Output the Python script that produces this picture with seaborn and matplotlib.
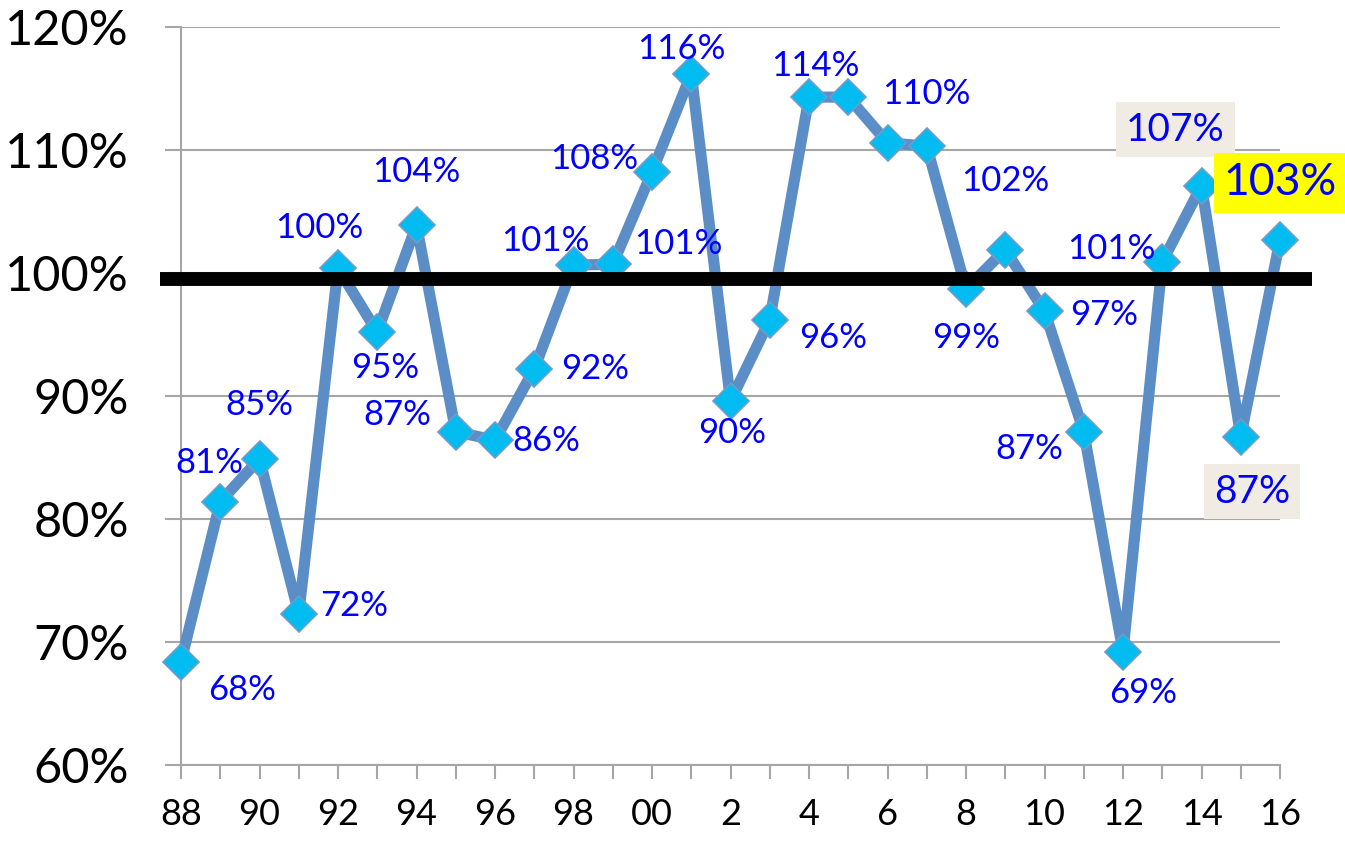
import matplotlib
matplotlib.use("Agg")
import matplotlib.pyplot as plt
import seaborn as sns
import pandas as pd

# ---- data ----
years = list(range(1988, 2017))
values = [68.4, 81.4, 84.9, 72.3, 100.4, 95.2, 103.9, 87.1, 86.4, 92.2,
          100.65, 100.7, 108.2, 116.2, 89.6, 96.2, 114.3, 114.3, 110.6, 110.3,
          98.7, 101.9, 96.9, 87.1, 69.2, 100.9, 107.1, 86.7, 102.7]
tick_labels = ['88', '', '90', '', '92', '', '94', '', '96', '', '98', '', '00', '',
               '2', '', '4', '', '6', '', '8', '', '10', '', '12', '', '14', '', '16']
y_ticks = [60, 70, 80, 90, 100, 110, 120]
y_tick_labels = ['60%', '70%', '80%', '90%', '100%', '110%', '120%']
reference_level = 99.5

# label placement (pixel offsets from the point: dx right, dy down); None = no label
label_offsets = [(61, 28), (-11, -39), (0, -54), (55, -8), (-19, -40), (8, 36),
                 (0, -53), (-58, -17), (51, 1), (61, 0), (-28, -24), (66, -20),
                 (-58, -13), (-10, -25), (2, 32), (63, 18), (6, -31), None, None,
                 (0, -52), (0, 49), (0, -69), (60, 4), (-54, 17), (20, 41),
                 (-51, -13), (-26, -56), (11, 55), (0, -57)]
# special highlighted labels: index -> (fontsize, box colour, pad)
highlights = {26: (28, '#F0ECE4', 0.25), 27: (28, '#F0ECE4', 0.25), 28: (32, '#FFFF00', 0.22)}

df = pd.DataFrame({'pos': range(len(years)), 'year': years, 'value': values})

sns.set_style("white")
plt.rcParams['font.family'] = ['Lato', 'DejaVu Sans']

W, H = 1345, 841
fig = plt.figure(figsize=(W / 100, H / 100), dpi=100)
ax = fig.add_axes([181 / W, 76 / H, 1099 / W, 738 / H])

grid_color = '#A6A6A6'
line_color = '#5B8EC6'

ax.grid(axis='y', color=grid_color, lw=1.5, zorder=0)
ax.grid(axis='x', visible=False)
ax.set_axisbelow(True)

sns.lineplot(data=df, x='pos', y='value', ax=ax, color=line_color, lw=8,
             marker='D', markersize=18, markerfacecolor='#00BCF0',
             markeredgecolor='#6F9CC8', markeredgewidth=1.2, zorder=3,
             clip_on=False)

ax.set_xlim(0, len(years) - 1)
ax.set_ylim(60, 120)
ax.set_xticks(df['pos'])
ax.set_xticklabels(tick_labels, fontsize=26)
ax.set_yticks(y_ticks)
ax.set_yticklabels(y_tick_labels, fontsize=35)
ax.set_xlabel('')
ax.set_ylabel('')

for s in ['top', 'right']:
    ax.spines[s].set_visible(False)
for s in ['left', 'bottom']:
    ax.spines[s].set_color(grid_color)
    ax.spines[s].set_linewidth(1.5)

ax.tick_params(axis='y', length=11.5, width=1.5, color=grid_color, pad=26,
               left=True, labelcolor='black')
ax.tick_params(axis='x', length=10, width=1.5, color=grid_color, pad=14,
               bottom=True, labelcolor='black')

# data labels
for i, (p, v) in enumerate(zip(df['pos'], df['value'])):
    off = label_offsets[i]
    if off is None:
        continue
    txt = f"{round(v)}%"
    kw = dict(fontsize=25, color='#0000FF')
    if i in highlights:
        fs, fc, pad = highlights[i]
        kw['fontsize'] = fs
        kw['bbox'] = dict(boxstyle=f'square,pad={pad}', fc=fc, ec='none')
    ax.annotate(txt, (p, v), xytext=(off[0], -off[1]), textcoords='offset pixels',
                ha='center', va='center', zorder=5, annotation_clip=False, **kw)

# thick black reference line on top
ax.axhline(reference_level, xmin=-0.0191, xmax=1.029, color='black', lw=10,
           clip_on=False, zorder=10, solid_capstyle='butt')

fig.savefig('out.png', dpi=100)
